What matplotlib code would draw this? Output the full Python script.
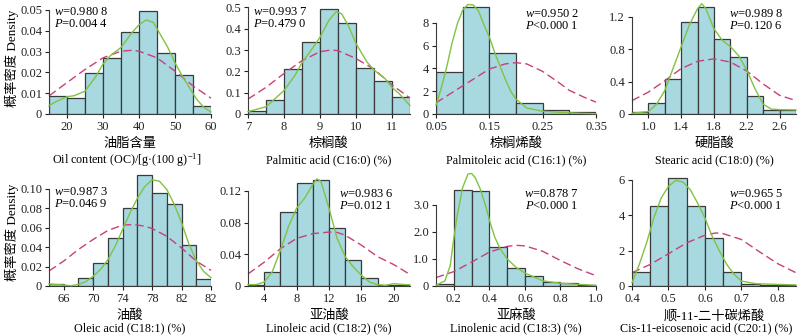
"""
Histograms of oil content and fatty acids with normal curve and density curve
"""

import numpy as np
import matplotlib
matplotlib.use("Agg")
import matplotlib.pyplot as plt

plt.rcParams['font.family'] = ['Liberation Serif', 'Noto Sans CJK SC']
plt.rcParams['mathtext.fontset'] = 'custom'
plt.rcParams['mathtext.it'] = 'Liberation Serif:italic'
plt.rcParams['mathtext.rm'] = 'Liberation Serif'
plt.rcParams['font.size'] = 9

# ---- data ----
# oil content
oil_edges = [15, 20, 25, 30, 35, 40, 45, 50, 55, 60]
oil_heights = [0.0086, 0.0078, 0.0195, 0.0268, 0.0394, 0.0495, 0.0295, 0.0186, 0.0040]
oil_green_x = [15, 17, 20, 22, 25, 28, 30, 32, 35, 38, 40, 42, 44, 46, 48, 50, 52, 54, 56, 58, 60]
oil_green_y = [0.0040, 0.0060, 0.0083, 0.0088, 0.0110, 0.0180, 0.0240, 0.0280, 0.0320, 0.0390,
               0.0429, 0.0452, 0.0440, 0.0380, 0.0320, 0.0246, 0.0183, 0.0127, 0.0071, 0.0032, 0.0010]
oil_red_x = [15, 20, 25, 30, 35, 38, 40, 45, 50, 55, 60]
oil_red_y = [0.0087, 0.0151, 0.0214, 0.0270, 0.0302, 0.0306, 0.0302, 0.0270, 0.0206, 0.0135, 0.0076]

# C16:0
c160_edges = [7, 7.5, 8, 8.5, 9, 9.5, 10, 10.5, 11, 11.5]
c160_heights = [0.016, 0.064, 0.209, 0.336, 0.490, 0.428, 0.217, 0.155, 0.081]
c160_green_x = [7, 7.5, 8, 8.3, 8.5, 8.8, 9, 9.25, 9.45, 9.6, 9.8, 10, 10.3, 10.5, 10.8, 11, 11.2, 11.5]
c160_green_y = [0.011, 0.034, 0.110, 0.180, 0.240, 0.310, 0.360, 0.440, 0.480, 0.470, 0.410,
                0.330, 0.245, 0.206, 0.167, 0.125, 0.095, 0.040]
c160_red_x = [7, 7.5, 8, 8.5, 9, 9.3, 9.5, 10, 10.5, 11, 11.5]
c160_red_y = [0.070, 0.125, 0.190, 0.250, 0.292, 0.300, 0.297, 0.260, 0.210, 0.136, 0.075]

# C16:1
c161_edges = [0.05, 0.10, 0.15, 0.20, 0.25, 0.30, 0.35]
c161_heights = [3.70, 9.36, 5.33, 0.98, 0.39, 0.15]
c161_green_x = [0.05, 0.06, 0.07, 0.08, 0.09, 0.10, 0.11, 0.12, 0.13, 0.14, 0.15, 0.16, 0.17,
                0.18, 0.19, 0.20, 0.22, 0.25, 0.28, 0.32, 0.35]
c161_green_y = [0.77, 2.3, 4.1, 6.2, 7.9, 9.1, 9.6, 9.55, 9.0, 7.8, 6.75, 5.4, 4.2,
                3.05, 2.0, 1.3, 0.53, 0.24, 0.15, 0.06, 0.03]
c161_red_x = [0.05, 0.08, 0.10, 0.12, 0.15, 0.18, 0.20, 0.22, 0.25, 0.28, 0.30, 0.33, 0.35]
c161_red_y = [0.98, 1.87, 2.46, 3.05, 3.94, 4.39, 4.50, 4.39, 3.73, 2.76, 2.07, 1.42, 1.04]

# C18:0
c180_edges = [0.8, 1.0, 1.2, 1.4, 1.6, 1.8, 2.0, 2.2, 2.4, 2.6, 2.8]
c180_heights = [0.02, 0.13, 0.43, 1.13, 1.32, 0.93, 0.70, 0.22, 0.05, 0.05]
c180_green_x = [0.8, 1.0, 1.1, 1.2, 1.3, 1.4, 1.5, 1.6, 1.65, 1.7, 1.8, 1.9, 2.0, 2.1, 2.2,
                2.3, 2.4, 2.5, 2.6, 2.8]
c180_green_y = [0.01, 0.03, 0.12, 0.29, 0.56, 0.83, 1.10, 1.30, 1.36, 1.30, 1.05, 0.91, 0.83,
                0.72, 0.54, 0.31, 0.12, 0.06, 0.054, 0.05]
c180_red_x = [0.8, 1.0, 1.2, 1.4, 1.6, 1.8, 2.0, 2.2, 2.4, 2.6, 2.8]
c180_red_y = [0.165, 0.27, 0.41, 0.56, 0.65, 0.68, 0.64, 0.53, 0.37, 0.23, 0.165]

# C18:1
c181_edges = [64, 66, 68, 70, 72, 74, 76, 78, 80, 82, 84, 86]
c181_heights = [0.002, 0.0, 0.0078, 0.0235, 0.0488, 0.080, 0.114, 0.0956, 0.0846, 0.042, 0.0072]
c181_green_x = [64, 66, 67, 68, 69, 70, 71, 72, 73, 74, 75, 76, 77, 78, 79, 80, 81, 82, 83, 84, 85, 86]
c181_green_y = [0.002, 0.001, 0.0003, 0.0017, 0.0044, 0.010, 0.017, 0.027, 0.041, 0.058, 0.075,
                0.090, 0.102, 0.109, 0.1075, 0.099, 0.084, 0.065, 0.043, 0.026, 0.015, 0.0085]
c181_red_x = [64, 66, 68, 70, 72, 74, 75.5, 77, 78, 80, 82, 84, 86]
c181_red_y = [0.0154, 0.0256, 0.0375, 0.0478, 0.057, 0.0625, 0.0631, 0.0614, 0.059, 0.051,
              0.039, 0.0256, 0.016]

# C18:2
c182_edges = [2, 4, 6, 8, 10, 12, 14, 16, 18, 20, 22]
c182_heights = [0.0017, 0.0177, 0.093, 0.130, 0.134, 0.0727, 0.0334, 0.0106, 0.0017, 0.0017]
c182_green_x = [2, 3, 4, 5, 6, 7, 8, 9, 10, 10.5, 11, 12, 13, 14, 15, 16, 17, 18, 19, 20, 21, 22]
c182_green_y = [0.0017, 0.0017, 0.005, 0.018, 0.045, 0.075, 0.098, 0.111, 0.128, 0.135, 0.132,
                0.098, 0.060, 0.037, 0.024, 0.0135, 0.005, 0.0017, 0.0008, 0.003, 0.002, 0.0015]
c182_red_x = [2, 4, 6, 8, 10, 12, 13, 14, 16, 18, 20, 21.6, 22]
c182_red_y = [0.0152, 0.030, 0.047, 0.060, 0.066, 0.068, 0.0676, 0.064, 0.0515, 0.037, 0.027,
              0.017, 0.015]

# C18:3
c183_edges = [0.1, 0.2, 0.3, 0.4, 0.5, 0.6, 0.7, 0.8, 0.9, 1.0]
c183_heights = [0.06, 3.54, 3.50, 1.44, 0.66, 0.375, 0.16, 0.10, 0.05]
c183_green_x = [0.1, 0.15, 0.18, 0.2, 0.22, 0.25, 0.28, 0.3, 0.32, 0.35, 0.38, 0.4, 0.43, 0.46,
                0.5, 0.55, 0.6, 0.7, 0.8, 0.9, 1.0]
c183_green_y = [0.025, 0.19, 0.75, 1.75, 2.63, 3.63, 4.13, 4.15, 4.0, 3.56, 2.94, 2.44, 1.81,
                1.38, 1.0, 0.69, 0.48, 0.19, 0.10, 0.06, 0.025]
c183_red_x = [0.1, 0.2, 0.3, 0.4, 0.5, 0.55, 0.6, 0.7, 0.8, 0.9, 1.0]
c183_red_y = [0.31, 0.53, 0.88, 1.25, 1.46, 1.50, 1.48, 1.28, 0.94, 0.63, 0.38]

# C20:1
c201_edges = [0.4, 0.45, 0.5, 0.55, 0.6, 0.65, 0.7, 0.75, 0.8, 0.85]
c201_heights = [0.8, 4.5, 6.13, 4.5, 2.72, 0.8, 0.13, 0.07, 0.05]
c201_green_x = [0.4, 0.42, 0.44, 0.46, 0.48, 0.5, 0.52, 0.54, 0.56, 0.58, 0.6, 0.62, 0.64,
                0.66, 0.68, 0.7, 0.74, 0.8, 0.85]
c201_green_y = [0.19, 1.22, 2.44, 3.85, 4.97, 5.63, 5.97, 5.87, 5.44, 4.69, 3.85, 2.81, 1.97,
                1.22, 0.66, 0.28, 0.13, 0.09, 0.06]
c201_red_x = [0.4, 0.45, 0.5, 0.55, 0.6, 0.63, 0.65, 0.7, 0.75, 0.8, 0.85]
c201_red_y = [0.75, 1.22, 1.82, 2.44, 2.87, 3.0, 2.96, 2.63, 1.93, 1.26, 0.75]

w_text = ["0.980 8", "0.993 7", "0.950 2", "0.989 8", "0.987 3", "0.983 6", "0.878 7", "0.965 5"]
p_text = ["=0.004 4", "=0.479 0", "<0.000 1", "=0.120 6", "=0.046 9", "=0.012 1", "<0.000 1", "<0.000 1"]

name_cn = ["油脂含量", "棕榈酸", "棕榈烯酸", "硬脂酸", "油酸", "亚油酸", "亚麻酸", "顺-11-二十碳烯酸"]
name_en = ["Oil content (OC)/[g·(100 g)$^{-1}$]", "Palmitic acid (C16:0) (%)",
           "Palmitoleic acid (C16:1) (%)", "Stearic acid (C18:0) (%)",
           "Oleic acid (C18:1) (%)", "Linoleic acid (C18:2) (%)",
           "Linolenic acid (C18:3) (%)", "Cis-11-eicosenoic acid (C20:1) (%)"]

xticks = [[20, 30, 40, 50, 60], [7, 8, 9, 10, 11], [0.05, 0.15, 0.25, 0.35],
          [1.0, 1.4, 1.8, 2.2, 2.6], [66, 70, 74, 78, 82, 86], [4, 8, 12, 16, 20],
          [0.2, 0.4, 0.6, 0.8, 1.0], [0.4, 0.5, 0.6, 0.7, 0.8]]
xticklabels = [["20", "30", "40", "50", "60"], ["7", "8", "9", "10", "11"],
               ["0.05", "0.15", "0.25", "0.35"], ["1.0", "1.4", "1.8", "2.2", "2.6"],
               ["66", "70", "74", "78", "82", "82"], ["4", "8", "12", "16", "20"],
               ["0.2", "0.4", "0.6", "0.8", "1.0"], ["0.4", "0.5", "0.6", "0.7", "0.8"]]
yticks = [[0, 0.01, 0.02, 0.03, 0.04, 0.05], [0, 0.1, 0.2, 0.3, 0.4, 0.5], [0, 2, 4, 6, 8],
          [0, 0.4, 0.8, 1.2], [0, 0.02, 0.04, 0.06, 0.08, 0.10], [0, 0.04, 0.08, 0.12],
          [0, 1.0, 2.0, 3.0], [0, 2, 4, 6]]
yticklabels = [["0", "0.01", "0.02", "0.03", "0.04", "0.05"], ["0", "0.1", "0.2", "0.3", "0.4", "0.5"],
               ["0", "2", "4", "6", "8"], ["0", "0.4", "0.8", "1.2"],
               ["0", "0.02", "0.04", "0.06", "0.08", "0.10"], ["0", "0.04", "0.08", "0.12"],
               ["0", "1.0", "2.0", "3.0"], ["0", "2", "4", "6"]]
ytop = [0.0524, 0.511, 9.55, 1.344, 0.118, 0.145, 4.24, 6.5]

panels = [
    (oil_edges, oil_heights, oil_green_x, oil_green_y, oil_red_x, oil_red_y),
    (c160_edges, c160_heights, c160_green_x, c160_green_y, c160_red_x, c160_red_y),
    (c161_edges, c161_heights, c161_green_x, c161_green_y, c161_red_x, c161_red_y),
    (c180_edges, c180_heights, c180_green_x, c180_green_y, c180_red_x, c180_red_y),
    (c181_edges, c181_heights, c181_green_x, c181_green_y, c181_red_x, c181_red_y),
    (c182_edges, c182_heights, c182_green_x, c182_green_y, c182_red_x, c182_red_y),
    (c183_edges, c183_heights, c183_green_x, c183_green_y, c183_red_x, c183_red_y),
    (c201_edges, c201_heights, c201_green_x, c201_green_y, c201_red_x, c201_red_y),
]

# layout in pixels (800 x 336)
W, H = 800, 336
col_px = [(49, 211), (248, 410), (436, 596), (632, 796)]
row_px = [(5, 114), (171, 286)]
stat_left = [True, True, False, False, True, False, False, False]
en_shift = [-3, 0, 0, 0, 0, 0, 0, -8]

bar_color = '#a8d8e0'
green = '#80c342'
red = '#c8407a'

fig = plt.figure(figsize=(8, 3.36), dpi=100)

for i, (edges, heights, gx, gy, rx, ry) in enumerate(panels):
    r, c = divmod(i, 4)
    x0, x1 = col_px[c]
    y0, y1 = row_px[r]
    ax = fig.add_axes([x0 / W, 1 - y1 / H, (x1 - x0) / W, (y1 - y0) / H])
    edges = np.array(edges)
    ax.bar(edges[:-1], heights, width=np.diff(edges), align='edge',
           color=bar_color, edgecolor='#3a3a3a', linewidth=0.9, zorder=1)
    ax.plot(rx, ry, color=red, lw=1.0, linestyle=(0, (6, 3)), zorder=2, clip_on=False)
    ax.plot(gx, gy, color=green, lw=1.0, zorder=3, clip_on=False)

    ax.set_xlim(edges[0], edges[-1])
    ax.set_ylim(0, ytop[i])
    ax.set_xticks(xticks[i])
    ax.set_xticklabels(xticklabels[i])
    ax.set_yticks(yticks[i])
    ax.set_yticklabels(yticklabels[i])
    for s in ['top', 'right']:
        ax.spines[s].set_visible(False)
    ax.spines['left'].set_bounds(0, yticks[i][-1])
    ax.spines['left'].set_color('#3a3a3a')
    ax.spines['bottom'].set_color('#3a3a3a')
    ax.tick_params(direction='out', length=3, width=0.8, pad=2, labelsize=9, colors='#222222')
    ax.patch.set_alpha(0)

    txt = "$w$=" + w_text[i] + "\n" + "$P$" + p_text[i]
    if stat_left[i]:
        ax.annotate(txt, xy=(0, 1), xycoords='axes fraction',
                    xytext=(5, -1 if r == 0 else -15), textcoords='offset pixels',
                    ha='left', va='top', fontsize=9, linespacing=1.05)
    else:
        off = 17 if c != 3 else 13
        ax.annotate(txt, xy=(1, 1), xycoords='axes fraction',
                    xytext=(-off, -3 if r == 0 else -17), textcoords='offset pixels',
                    ha='right', va='top', fontsize=9, linespacing=1.05)

    ax.annotate(name_cn[i], xy=(0.5, 0), xycoords='axes fraction',
                xytext=(0, -30), textcoords='offset pixels',
                ha='center', va='center', fontsize=9.5)
    ax.annotate(name_en[i], xy=(0.5, 0), xycoords='axes fraction',
                xytext=(en_shift[i], -46 if r == 0 else -42), textcoords='offset pixels',
                ha='center', va='center', fontsize=8.7)

fig.text(12 / W, 1 - 58 / H, "概率密度 Density", rotation=90, ha='center', va='center', fontsize=9.5)
fig.text(12 / W, 1 - 232 / H, "概率密度 Density", rotation=90, ha='center', va='center', fontsize=9.5)

fig.savefig("out.png", dpi=100)
